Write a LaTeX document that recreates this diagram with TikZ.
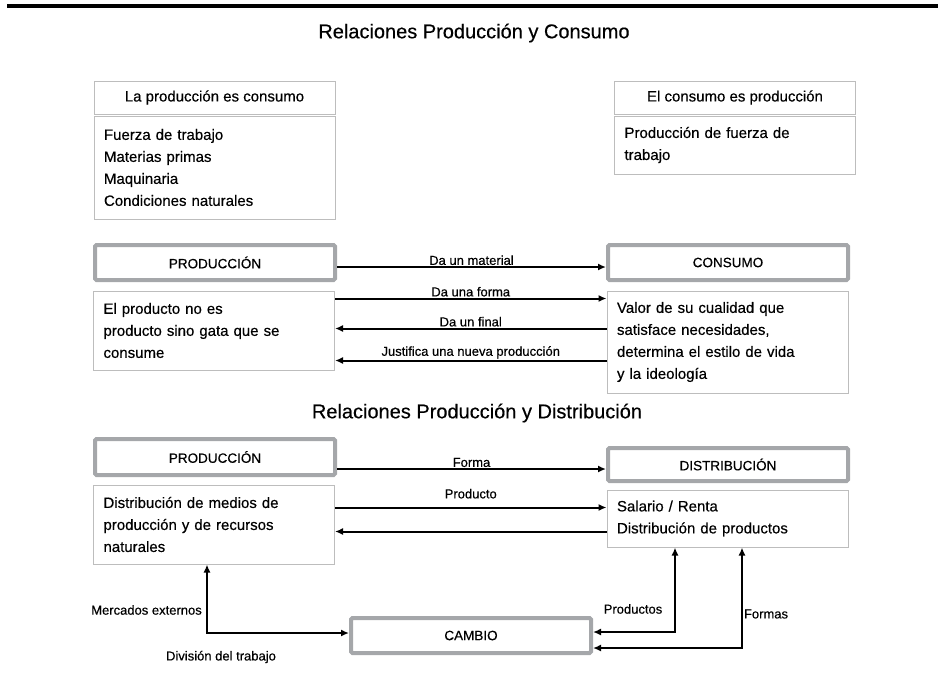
\documentclass[tikz,border=0pt]{standalone}
\usepackage{fontspec}
\setmainfont{Liberation Sans}[FakeBold=0.4]
\usetikzlibrary{arrows.meta}
\definecolor{boxgray}{HTML}{A5A7AA}
\definecolor{thingray}{HTML}{BDBDBD}
\tikzset{
	>={Latex[length=8pt,width=7pt]},
	conn/.style={line width=2pt},
	bigbox/.style={draw=boxgray, line width=4pt, rounded corners=1.5pt, minimum width=240pt, font=\fontsize{13.5}{16}\selectfont},
	headbox/.style={draw=thingray, line width=1pt, minimum width=241pt, minimum height=33pt, font=\fontsize{15}{22}\selectfont},
	listbox/.style={draw=thingray, line width=1pt, text width=221pt, inner xsep=10pt, align=left, font=\fontsize{15}{22}\selectfont},
	lbl/.style={font=\fontsize{13}{15}\selectfont, inner sep=1pt},
	ttl/.style={font=\fontsize{20}{24}\selectfont},
}

\begin{document}
\begin{tikzpicture}[x=1pt,y=-1pt]
	\useasboundingbox (0,0) rectangle (938,694);
	\draw[line width=3.5pt] (7,6) -- (938,6);
	
	% produccion y consumo
	\node[ttl] (title1) at (474,33) {Relaciones Producción y Consumo};
	\node[headbox] (pec) at (214.5,97.5) {La producción es consumo};
	\node[listbox, minimum height=103pt] (peclist) at (214.5,167.5) {Fuerza de trabajo\\Materias primas\\Maquinaria\\Condiciones naturales};
	\node[headbox] (cep) at (735,97.5) {El consumo es producción};
	\node[listbox, minimum height=58pt] (ceplist) at (735,145) {Producción de fuerza de\\trabajo};
	
	\node[bigbox, minimum height=35pt] (prod1) at (215,262.5) {PRODUCCIÓN};
	\node[bigbox, minimum height=35pt] (cons) at (728,262.5) {CONSUMO};
	\node[listbox, minimum height=79pt] (prod1txt) at (214,330.5) {El producto no es\\producto sino gata que se\\consume};
	\node[listbox, minimum height=102pt] (constxt) at (727.5,342) {Valor de su cualidad que\\satisface necesidades,\\determina el estilo de vida\\y la ideología};
	
	\draw[conn,->] ([yshift=-4.5pt]prod1.east) -- ([yshift=-4.5pt]cons.west) node[lbl,midway,above] (lmat) {Da un material};
	\draw[conn,->] ([yshift=-8pt]prod1txt.north east) -- ([yshift=-8pt]constxt.north west) node[lbl,midway,above] (lforma) {Da una forma};
	\draw[conn,<-] ([yshift=-38pt]prod1txt.north east) -- ([yshift=-38pt]constxt.north west) node[lbl,midway,above] (lfinal) {Da un final};
	\draw[conn,<-] ([yshift=-70pt]prod1txt.north east) -- ([yshift=-70pt]constxt.north west) node[lbl,midway,above] (ljust) {Justifica una nueva producción};
	
	% produccion y distribucion
	\node[ttl] (title2) at (477,413) {Relaciones Producción y Distribución};
	\node[bigbox, minimum height=36pt] (prod2) at (215,457) {PRODUCCIÓN};
	\node[bigbox, minimum height=33pt] (dist) at (728,464.5) {DISTRIBUCIÓN};
	\node[listbox, minimum height=79pt] (prod2txt) at (214,524.5) {Distribución de medios de\\producción y de recursos\\naturales};
	\node[listbox, minimum height=57pt] (disttxt) at (727.5,518.5) {Salario / Renta\\Distribución de productos};
	\node[bigbox, minimum height=35pt] (cambio) at (471,635.5) {CAMBIO};
	
	\coordinate (forma) at ([yshift=-4.5pt]dist.west);
	\coordinate (prodin) at ([yshift=-18pt]disttxt.north west);
	\coordinate (prodout) at ([yshift=-42pt]disttxt.north west);
	\draw[conn,->] (prod2.east |- forma) -- (forma) node[lbl,midway,above] (lforma2) {Forma};
	\draw[conn,->] (prod2txt.east |- prodin) -- (prodin) node[lbl,midway,above=7pt] (lprod) {Producto};
	\draw[conn,<-] (prod2txt.east |- prodout) -- (prodout);
	
	% cambio
	\coordinate (mcorner) at (207,633);
	\coordinate (pcorner) at (675,632);
	\coordinate (fcorner) at (742,648);
	\draw[conn,<->] (mcorner |- prod2txt.south) |- (cambio.west |- mcorner);
	\draw[conn,<->] (pcorner |- disttxt.south) |- (cambio.east |- pcorner);
	\draw[conn,<->] (fcorner |- disttxt.south) |- (cambio.east |- fcorner);
	
	\node[lbl, anchor=east] (lmerc) at (203,610) {Mercados externos};
	\node[lbl] (ldiv) at (221,657) {División del trabajo};
	\node[lbl] (lproductos) at (633,609) {Productos};
	\node[lbl] (lformas) at (766,614) {Formas};
\end{tikzpicture}
\end{document}
